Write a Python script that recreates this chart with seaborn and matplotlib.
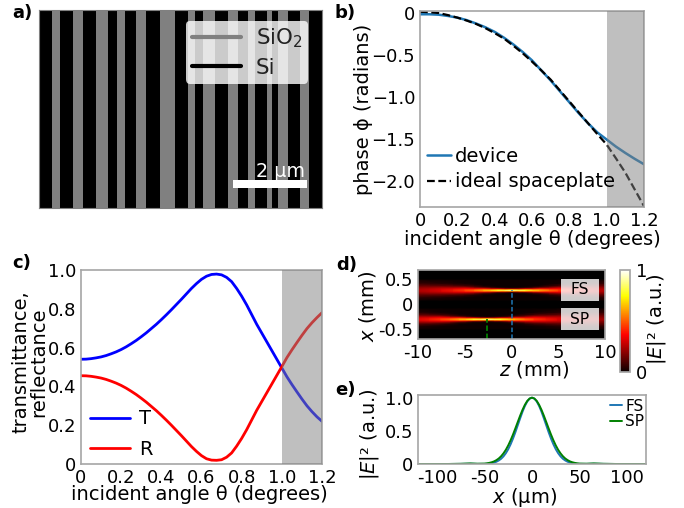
import numpy as np
import matplotlib
matplotlib.use("Agg")
import matplotlib.pyplot as plt
from matplotlib.patches import Rectangle
import seaborn as sns

# panel a: layer widths in um, starting from the left edge
LAYER_WIDTHS = [0.34, 0.24, 0.34, 0.26, 0.36, 0.32, 0.25, 0.20, 0.31, 0.28, 0.36, 0.41,
                0.34, 0.20, 0.22, 0.32, 0.35, 0.27, 0.28, 0.18, 0.32, 0.14, 0.16, 0.27,
                0.32, 0.26, 0.34]
LAYER_NAMES = ["Si", "SiO$_2$"]

# panel b
ANGLES_B = [0, 0.05, 0.1, 0.15, 0.2, 0.25, 0.3, 0.35, 0.4, 0.45, 0.5, 0.55, 0.6, 0.65, 0.7,
            0.75, 0.8, 0.85, 0.9, 0.95, 1.0, 1.05, 1.1, 1.15, 1.2]
PHASE_DEVICE = [-0.01, -0.01, -0.015, -0.03, -0.05, -0.08, -0.12, -0.165, -0.22, -0.29, -0.37,
                -0.46, -0.56, -0.68, -0.80, -0.93, -1.06, -1.19, -1.31, -1.42, -1.505, -1.59,
                -1.665, -1.735, -1.80]
PHASE_IDEAL = [0.02, 0.015, 0.005, -0.02, -0.05, -0.085, -0.125, -0.175, -0.235, -0.30, -0.385,
               -0.475, -0.575, -0.68, -0.79, -0.92, -1.05, -1.18, -1.31, -1.44, -1.565, -1.73,
               -1.90, -2.10, -2.30]

# panel c
ANGLES_C = [0, 0.025, 0.05, 0.075, 0.1, 0.125, 0.15, 0.175, 0.2, 0.225, 0.25, 0.275, 0.3, 0.325,
            0.35, 0.375, 0.4, 0.425, 0.45, 0.475, 0.5, 0.525, 0.55, 0.575, 0.6, 0.625, 0.65, 0.675,
            0.7, 0.725, 0.75, 0.775, 0.8, 0.825, 0.85, 0.875, 0.9, 0.925, 0.95, 0.975, 1.0, 1.025,
            1.05, 1.075, 1.1, 1.125, 1.15, 1.175, 1.2]
TRANS = [0.54, 0.5405, 0.543, 0.547, 0.552, 0.559, 0.568, 0.578, 0.59, 0.604, 0.62, 0.637, 0.656,
         0.676, 0.698, 0.72, 0.744, 0.769, 0.795, 0.822, 0.849, 0.877, 0.905, 0.93, 0.952, 0.968,
         0.977, 0.979, 0.975, 0.962, 0.94, 0.905, 0.865, 0.82, 0.77, 0.72, 0.675, 0.63, 0.585, 0.54,
         0.495, 0.45, 0.41, 0.372, 0.335, 0.30, 0.27, 0.243, 0.22]
REFL = [0.455, 0.4545, 0.452, 0.448, 0.443, 0.436, 0.427, 0.417, 0.405, 0.391, 0.375, 0.358, 0.339,
        0.319, 0.297, 0.275, 0.251, 0.226, 0.20, 0.173, 0.146, 0.118, 0.09, 0.065, 0.043, 0.027,
        0.02, 0.019, 0.022, 0.035, 0.057, 0.092, 0.132, 0.177, 0.227, 0.277, 0.322, 0.367, 0.412,
        0.457, 0.502, 0.548, 0.588, 0.626, 0.663, 0.698, 0.728, 0.755, 0.78]

# panel d: intensity, rows are offsets from the beam axis in mm (one side, mirrored when drawn)
BEAM_OFFSETS = [0, 0.015, 0.03, 0.05, 0.07, 0.1, 0.14, 0.2]
FS_Z = [-10, -7.5, -5, -3, -1.5, 0, 1.5, 3, 5, 7.5, 10]
FS_BEAM = [
    [0.24, 0.32, 0.45, 0.62, 0.78, 0.90, 0.78, 0.62, 0.45, 0.32, 0.24],
    [0.236, 0.31, 0.43, 0.56, 0.63, 0.65, 0.63, 0.56, 0.43, 0.31, 0.236],
    [0.226, 0.29, 0.37, 0.40, 0.33, 0.23, 0.33, 0.40, 0.37, 0.29, 0.226],
    [0.20, 0.24, 0.27, 0.18, 0.07, 0.03, 0.07, 0.18, 0.27, 0.24, 0.20],
    [0.17, 0.185, 0.165, 0.055, 0.01, 0, 0.01, 0.055, 0.165, 0.185, 0.17],
    [0.12, 0.105, 0.06, 0.005, 0, 0, 0, 0.005, 0.06, 0.105, 0.12],
    [0.06, 0.036, 0.008, 0, 0, 0, 0, 0, 0.008, 0.036, 0.06],
    [0.015, 0.004, 0, 0, 0, 0, 0, 0, 0, 0.004, 0.015],
]
SP_Z = [-10, -7.6, -5.6, -4.1, -2.6, -1.1, 0.4, 2.4, 4.9, 10]
SP_BEAM = [
    [0.32, 0.45, 0.62, 0.78, 0.90, 0.78, 0.62, 0.45, 0.32, 0.20],
    [0.31, 0.43, 0.56, 0.63, 0.65, 0.63, 0.56, 0.43, 0.31, 0.197],
    [0.29, 0.37, 0.40, 0.33, 0.23, 0.33, 0.40, 0.37, 0.29, 0.19],
    [0.24, 0.27, 0.18, 0.07, 0.03, 0.07, 0.18, 0.27, 0.24, 0.17],
    [0.185, 0.165, 0.055, 0.01, 0, 0.01, 0.055, 0.165, 0.185, 0.15],
    [0.105, 0.06, 0.005, 0, 0, 0, 0.005, 0.06, 0.105, 0.11],
    [0.036, 0.008, 0, 0, 0, 0, 0, 0.008, 0.036, 0.06],
    [0.004, 0, 0, 0, 0, 0, 0, 0, 0.004, 0.018],
]
FS_CENTER = 0.28
SP_CENTER = -0.30
SP_FOCUS = -2.6

# panel e: focal profiles, one side, mirrored when drawn
X_UM = [0, 2.5, 5, 7.5, 10, 12.5, 15, 17.5, 20, 22.5, 25, 27.5, 30, 32.5, 35, 37.5, 40, 42.5, 45,
        47.5, 50, 57.5, 65, 75, 90, 120]
PROFILE_FS = [1, 0.985, 0.942, 0.874, 0.787, 0.687, 0.583, 0.479, 0.383, 0.297, 0.223, 0.163, 0.115,
              0.079, 0.053, 0.034, 0.021, 0.013, 0.008, 0.004, 0.002, 0.002, 0.005, 0.002, 0, 0]
PROFILE_SP = [1, 0.987, 0.951, 0.892, 0.816, 0.728, 0.633, 0.537, 0.444, 0.358, 0.281, 0.215, 0.161,
              0.117, 0.083, 0.058, 0.039, 0.026, 0.017, 0.010, 0.006, 0.004, 0.008, 0.003, 0, 0]

W, H = 684, 508
TICK = 13
LABEL = 14
SPINE = "#a6a6a6"


def place(fig, left, top, right, bottom):
    return fig.add_axes([left / W, 1 - bottom / H, (right - left) / W, (bottom - top) / H])


def style(ax):
    for s in ax.spines.values():
        s.set_color(SPINE)
        s.set_linewidth(1.2)
    ax.tick_params(which="both", labelsize=TICK, length=2, color=SPINE, pad=1.5)


def xlabel_at(fig, ax, text, cx, top):
    ax.set_xlabel(text, fontsize=LABEL)
    ax.xaxis.set_label_coords(cx / W, 1 - top / H, transform=fig.transFigure)


def ylabel_at(fig, ax, text, right, cy, **kw):
    ax.set_ylabel(text, fontsize=LABEL, **kw)
    ax.yaxis.set_label_coords(right / W, 1 - cy / H, transform=fig.transFigure)


def mirrored(values):
    return np.concatenate([np.array(values)[:0:-1], values])


def main():
    sns.set_theme(style="white", rc={"font.family": ["DejaVu Sans"], "mathtext.fontset": "dejavusans",
                                     "text.color": "black", "axes.labelcolor": "black",
                                     "xtick.color": "black", "ytick.color": "black"})
    fig = plt.figure(figsize=(W / 100, H / 100), dpi=100)

    # a) layer stack
    ax = place(fig, 39, 10, 322, 208)
    left = 0
    for i, w in enumerate(LAYER_WIDTHS):
        ax.bar(left, 1, width=w, align="edge", color="black" if i % 2 == 0 else "#808080", linewidth=0)
        left += w
    ax.set_xlim(0, left)
    ax.set_ylim(0, 1)
    ax.set_xticks([])
    ax.set_yticks([])
    for s in ax.spines.values():
        s.set_color("#808080")
        s.set_linewidth(0.8)
    ax.plot([], [], color="#808080", lw=3, label=LAYER_NAMES[1])
    ax.plot([], [], color="black", lw=3, label=LAYER_NAMES[0])
    ax.legend(loc="upper right", bbox_to_anchor=(0.952, 0.944), borderaxespad=0, fontsize=15.4,
              framealpha=0.8, facecolor="white", edgecolor="none", handlelength=2.3, handletextpad=0.7,
              labelspacing=0.35, labelcolor="#222222", borderpad=0.27)
    ax.axhspan(0.101, 0.141, xmin=0.686, xmax=0.947, color="white", lw=0)
    ax.text(0.855, 0.156, "2 µm", transform=ax.transAxes, color="white", ha="center", va="baseline",
            fontsize=13.8)

    # b) phase
    ax = place(fig, 420, 10.5, 644, 207)
    sns.lineplot(x=ANGLES_B, y=PHASE_DEVICE, ax=ax, color="#1f77b4", lw=1.8, label="device")
    sns.lineplot(x=ANGLES_B, y=PHASE_IDEAL, ax=ax, color="black", lw=1.6, ls=(0, (3.5, 1.6)),
                 label="ideal spaceplate")
    ax.axvspan(1.0, 1.2, color="gray", alpha=0.5, lw=0, zorder=5)
    ax.set_xlim(0, 1.2)
    ax.set_ylim(-2.31, 0.035)
    ax.set_xticks([0, 0.2, 0.4, 0.6, 0.8, 1.0, 1.2], ["0", "0.2", "0.4", "0.6", "0.8", "1.0", "1.2"])
    ax.set_yticks([0, -0.5, -1, -1.5, -2], ["0", "\u22120.5", "\u22121.0", "\u22121.5", "\u22122.0"])
    style(ax)
    xlabel_at(fig, ax, "incident angle θ (degrees)", 532, 230)
    ylabel_at(fig, ax, "phase ϕ (radians)", 373, 109)
    leg = ax.legend(loc="lower left", bbox_to_anchor=(0.005, 0.05), frameon=False, fontsize=LABEL,
                    handlelength=1.25, handletextpad=0.2, labelspacing=0.35, borderaxespad=0, borderpad=0.3)
    leg.set_zorder(6)

    # c) transmittance and reflectance
    ax = place(fig, 81, 270, 322, 464)
    sns.lineplot(x=ANGLES_C, y=TRANS, ax=ax, color="blue", lw=2, label="T")
    sns.lineplot(x=ANGLES_C, y=REFL, ax=ax, color="red", lw=2, label="R")
    ax.axvspan(1.0, 1.2, color="gray", alpha=0.5, lw=0, zorder=5)
    ax.set_xlim(0, 1.2)
    ax.set_ylim(0, 1)
    ax.set_xticks([0, 0.2, 0.4, 0.6, 0.8, 1.0, 1.2], ["0", "0.2", "0.4", "0.6", "0.8", "1.0", "1.2"])
    ax.set_yticks([0, 0.2, 0.4, 0.6, 0.8, 1.0], ["0", "0.2", "0.4", "0.6", "0.8", "1.0"])
    style(ax)
    xlabel_at(fig, ax, "incident angle θ (degrees)", 199, 485)
    ylabel_at(fig, ax, "transmittance,\nreflectance", 48, 362, linespacing=0.9)
    ax.legend(loc="lower left", bbox_to_anchor=(0.015, -0.005), frameon=False, fontsize=LABEL,
              handlelength=2.05, handletextpad=0.45, labelspacing=0.6, borderaxespad=0, borderpad=0.3)

    # d) focal maps
    ax = place(fig, 418, 270, 605, 339)
    ax.set_facecolor("black")
    rows = mirrored(BEAM_OFFSETS)
    rows[:len(BEAM_OFFSETS) - 1] *= -1
    mesh = None
    for center, z, beam in ((FS_CENTER, FS_Z, FS_BEAM), (SP_CENTER, SP_Z, SP_BEAM)):
        half = np.array(beam)
        full = np.vstack([half[:0:-1], half])
        mesh = ax.pcolormesh(z, center + rows, full, shading="gouraud", cmap="hot", vmin=0, vmax=1)
    ax.set_xlim(-10, 10)
    ax.set_ylim(-0.70, 0.68)
    ax.plot([0, 0], [-0.70, FS_CENTER], color="#1f77b4", lw=1.1, ls=(0, (3, 1.5)))
    ax.plot([SP_FOCUS, SP_FOCUS], [-0.70, SP_CENTER], color="green", lw=1.3, ls=(0, (3, 1.5)))
    for label, y in (("FS", FS_CENTER), ("SP", SP_CENTER)):
        ax.add_patch(Rectangle((5.29, y - 0.22), 4.07, 0.44, fc="white", ec="none", alpha=0.8, zorder=4))
        ax.text(7.32, y, label, color="black", ha="center", va="center", fontsize=11.2, zorder=5)
    ax.set_xticks([-10, -5, 0, 5, 10], ["-10", "-5", "0", "5", "10"])
    ax.set_xticks([-7.5, -2.5, 2.5, 7.5], minor=True)
    ax.set_yticks([-0.5, 0, 0.5], ["-0.5", "0", "0.5"])
    style(ax)
    xlabel_at(fig, ax, "$z$ (mm)", 534, 359.5)
    ylabel_at(fig, ax, "$x$ (mm)", 378.5, 306)

    cax = place(fig, 620, 270, 630, 372)
    cb = fig.colorbar(mesh, cax=cax)
    cb.set_ticks([0, 1], labels=["0", "1"])
    cb.ax.tick_params(labelsize=TICK, length=0, pad=4)
    cb.outline.set_edgecolor(SPINE)
    cb.set_label("|$E$|² (a.u.)", fontsize=LABEL)
    cax.yaxis.set_label_coords(645 / W, 1 - 319 / H, transform=fig.transFigure)

    # e) profiles
    ax = place(fig, 418, 395, 646, 464)
    x_full = mirrored(X_UM)
    x_full[:len(X_UM) - 1] *= -1
    sns.lineplot(x=x_full, y=mirrored(PROFILE_FS), ax=ax, color="#1f77b4", lw=1.4, label="FS")
    sns.lineplot(x=x_full, y=mirrored(PROFILE_SP), ax=ax, color="green", lw=1.4, label="SP")
    ax.set_xlim(-120, 120)
    ax.set_ylim(0, 1.04)
    ax.set_xticks([-100, -50, 0, 50, 100], ["-100", "-50", "0", "50", "100"])
    ax.set_yticks([0, 0.5, 1], ["0", "0.5", "1.0"])
    ax.set_yticks([0.25, 0.75], minor=True)
    style(ax)
    xlabel_at(fig, ax, "$x$ (µm)", 525, 486)
    ylabel_at(fig, ax, "|$E$|² (a.u.)", 381, 434)
    ax.legend(loc="upper right", bbox_to_anchor=(1, 0.97), frameon=False, fontsize=11, handlelength=0.8,
              handletextpad=0.2, labelspacing=0.05, borderaxespad=0, borderpad=0.1)

    for label, x, y in (("a)", 12, 13), ("b)", 334, 13), ("c)", 12, 263), ("d)", 336, 265), ("e)", 335, 390)):
        fig.text(x / W, 1 - y / H, label, fontsize=13, fontweight="bold", va="center")

    fig.savefig("out.png", dpi=100)


if __name__ == "__main__":
    main()
